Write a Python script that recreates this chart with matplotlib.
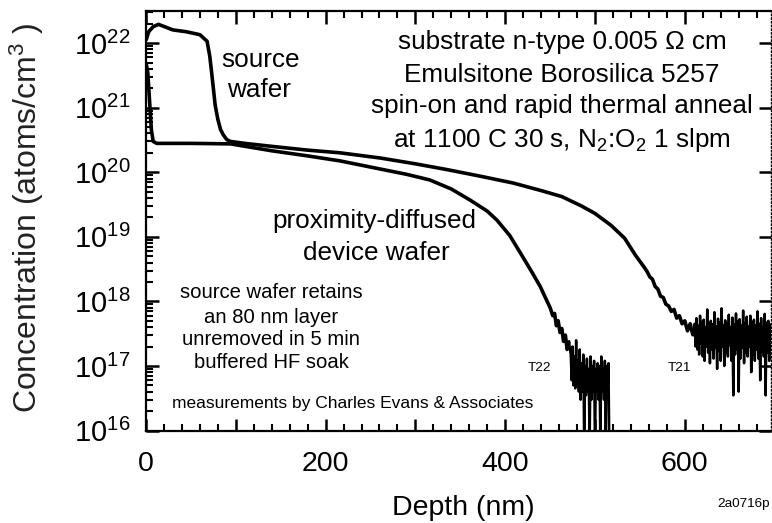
import matplotlib
matplotlib.use("Agg")
import matplotlib.pyplot as plt
from matplotlib.ticker import MultipleLocator, FixedLocator, NullFormatter

plt.rcParams['font.family'] = ['Liberation Sans', 'DejaVu Sans']
plt.rcParams['mathtext.fontset'] = 'custom'
plt.rcParams['mathtext.rm'] = 'Liberation Sans'
plt.rcParams['mathtext.it'] = 'Liberation Sans:italic'
plt.rcParams['mathtext.bf'] = 'Liberation Sans:bold'

### source wafer (T21): depth in nm, boron concentration in atoms/cm^3
src_depth = [0, 3, 8, 14, 30, 45, 60, 68, 71, 73, 75, 77, 80, 83, 86, 90, 94,
             110, 142, 180, 216, 261, 300, 335, 372, 409, 440, 463, 485, 500,
             518, 533, 545, 554, 558, 561, 564, 567, 570, 573, 576, 579, 582,
             585, 588, 591, 594, 597, 600, 603, 606, 609]
src_conc = [1.1e22, 1.5e22, 1.8e22, 1.95e22, 1.6e22, 1.5e22, 1.35e22, 1.07e22,
            6.3e21, 3.6e21, 2.0e21, 1.1e21, 6.6e20, 4.6e20, 3.8e20, 3.2e20, 3.0e20,
            2.8e20, 2.5e20, 2.2e20, 2.0e20, 1.66e20, 1.35e20, 1.1e20, 8.7e19,
            6.8e19, 5.2e19, 4.2e19, 3.0e19, 2.3e19, 1.5e19, 9.5e18, 5.2e18,
            3.5e18, 2.9e18, 2.4e18, 2.2e18, 1.7e18, 1.55e18, 1.2e18, 1.15e18,
            9.0e17, 8.5e17, 7.0e17, 7.5e17, 5.5e17, 6.0e17, 4.5e17, 5.0e17,
            3.5e17, 4.5e17, 3.0e17]
# noisy detection-limit tail of T21
src_tail_depth = [609, 611, 612, 613, 614, 615, 616, 617, 618, 619, 620,
                  621, 622, 623, 624, 625, 626, 627, 628, 629, 630,
                  631, 632, 633, 634, 635, 636, 637, 638, 639, 640,
                  641, 642, 643, 644, 645, 646, 647, 648, 649, 650,
                  651, 652, 653, 654, 655, 656, 657, 658, 659, 660,
                  661, 662, 663, 664, 665, 666, 667, 668, 669, 670,
                  671, 672, 673, 674, 675, 676, 677, 678, 679, 680,
                  681, 682, 683, 684, 685, 686, 687, 688, 689, 690,
                  691, 692, 693, 694, 695, 696]
src_tail_conc = [3.0e17, 4.5e17, 2.0e17, 5.5e17, 1.8e17, 4.2e17, 1.5e17, 6.0e17, 2.2e17, 4.8e17, 1.4e17,
                 5.2e17, 1.2e17, 4.0e17, 2.0e17, 7.5e17, 1.6e17, 4.6e17, 1.1e17, 5.0e17, 1.8e17,
                 4.4e17, 1.3e17, 6.8e17, 1.9e17, 4.1e17, 0.9e17, 5.4e17, 1.7e17, 4.7e17, 1.2e17,
                 7.8e17, 2.0e17, 4.3e17, 1.0e17, 5.1e17, 1.6e17, 4.5e17, 1.4e17, 6.2e17, 2.1e17,
                 4.0e17, 1.2e17, 5.6e17, 0.35e17, 4.4e17, 1.5e17, 6.5e17, 1.8e17, 4.9e17, 0.4e17,
                 5.3e17, 1.3e17, 4.2e17, 1.9e17, 7.2e17, 1.1e17, 4.6e17, 1.6e17, 5.8e17, 1.4e17,
                 4.1e17, 2.0e17, 6.0e17, 0.8e17, 4.8e17, 1.5e17, 5.2e17, 1.2e17, 4.3e17, 1.8e17,
                 7.0e17, 1.3e17, 4.5e17, 0.6e17, 5.5e17, 1.7e17, 4.0e17, 1.4e17, 6.4e17, 0.35e17,
                 4.7e17, 1.6e17, 5.0e17, 1.2e17, 4.4e17, 1.9e17]

### proximity-diffused device wafer (T22)
dev_depth = [0, 2, 4, 6, 8, 12, 50, 94, 140, 179, 216, 261, 290, 316, 340, 361,
             380, 391, 405, 417, 430, 439, 446, 450, 453, 455, 457, 459, 461,
             463, 465, 467, 469, 471]
dev_conc = [5e21, 3.5e21, 1.25e21, 4.5e20, 3.0e20, 2.8e20, 2.8e20, 2.75e20,
            2.15e20, 1.8e20, 1.5e20, 1.12e20, 9.3e19, 7.6e19, 5.5e19, 3.7e19,
            2.5e19, 1.8e19, 1.05e19, 5.6e18, 2.8e18, 1.7e18, 1.05e18, 8.0e17,
            6.0e17, 6.5e17, 4.2e17, 5.0e17, 3.3e17, 3.8e17, 2.4e17, 3.0e17,
            1.8e17, 2.4e17]
dev_tail_depth = [471, 473, 474, 475, 476, 477, 478, 479, 480, 481, 482,
                  483, 484, 485, 486, 487, 488, 489, 490, 491, 492,
                  493, 494, 495, 496, 497, 498, 499, 500, 501, 502,
                  503, 504, 505, 506, 507, 508, 509, 510, 511, 512,
                  513, 514, 515, 516, 517]
dev_tail_conc = [2.4e17, 1.5e17, 6e16, 2.0e17, 5e16, 1.4e17, 4.5e16, 2.5e17, 5e16, 1.2e17, 4e16,
                 1.8e17, 3e16, 1.1e17, 4e16, 1.5e17, 5e15, 1.0e17, 3.5e16, 1.3e17, 4e16,
                 9e16, 5e15, 1.4e17, 3e16, 1.0e17, 4e16, 1.2e17, 5e15, 9e16, 4e16,
                 1.1e17, 3e16, 1.0e17, 5e15, 1.4e17, 4e16, 9e16, 3e16, 1.2e17, 5e15,
                 1.0e17, 4e16, 1.1e17, 5e15, 5e15]

xticks = [0, 100, 200, 300, 400, 500, 600]
xticklabels = ['0', '', '200', '', '400', '', '600']
yticks = [1e16, 1e17, 1e18, 1e19, 1e20, 1e21, 1e22]
# log minor ticks 2..9 in every decade
yminor = [k * 10.0**e for e in range(16, 23) for k in range(2, 10)]

fig = plt.figure(figsize=(7.72, 5.23), dpi=100)
ax = fig.add_axes([146/772, 92.5/523, 625/772, 420/523])

ax.plot(src_depth, src_conc, color='black', lw=2.6, solid_capstyle='butt')
ax.plot(src_tail_depth, src_tail_conc, color='black', lw=1.8)
ax.plot(dev_depth, dev_conc, color='black', lw=2.6, solid_capstyle='butt')
ax.plot(dev_tail_depth, dev_tail_conc, color='black', lw=1.8)

ax.set_yscale('log')
ax.set_xlim(0, 696)
ax.set_ylim(1e16, 3.2e22)

ax.set_xticks(xticks)
ax.set_xticklabels(xticklabels)
ax.xaxis.set_minor_locator(MultipleLocator(20))
ax.set_yticks(yticks)
ax.yaxis.set_minor_locator(FixedLocator(yminor))
ax.yaxis.set_minor_formatter(NullFormatter())

ax.xaxis.set_tick_params(which='both', direction='in', top=True, bottom=True,
                         color='#000000', zorder=5)
ax.yaxis.set_tick_params(which='both', direction='in', left=True, right=True,
                         color='#000000', zorder=5)
ax.tick_params(which='major', length=9, width=1.8)
ax.tick_params(which='minor', length=5, width=1.5)
ax.tick_params(axis='y', which='minor', right=False)
ax.tick_params(axis='x', labelsize=20.5, pad=15)
ax.tick_params(axis='y', labelsize=21, pad=11)

for side in ['left', 'bottom', 'top']:
    ax.spines[side].set_linewidth(1.6)
ax.spines['right'].set_linestyle(':')
ax.spines['right'].set_linewidth(1.0)

ax.set_xlabel('Depth (nm)', fontsize=20.5)
ax.xaxis.set_label_coords(0.507, -0.185)
ax.xaxis.label.set_va('center')
ax.set_ylabel('Concentration (atoms/cm$^{3}$ )', fontsize=23, color='#222222')
ax.yaxis.set_label_coords(-0.19, 0.507)
ax.yaxis.label.set_va('center')

### annotations
tr = ax.transAxes
ax.text(0.184, 0.865, 'source', fontsize=18.8, ha='center', va='baseline', transform=tr)
ax.text(0.181, 0.794, 'wafer', fontsize=18.8, ha='center', va='baseline', transform=tr)

note_lines = ['substrate n-type 0.005 \u03a9 cm',
              'Emulsitone Borosilica 5257',
              'spin-on and rapid thermal anneal',
              'at 1100 C 30 s, N$_{2}$:O$_{2}$ 1 slpm']
for line, yy in zip(note_lines, [0.908, 0.830, 0.756, 0.675]):
    ax.text(0.666, yy, line, fontsize=18.8, ha='center', va='baseline', transform=tr)

ax.text(0.366, 0.482, 'proximity-diffused', fontsize=18.8, ha='center', va='baseline', transform=tr)
ax.text(0.368, 0.406, 'device wafer', fontsize=18.8, ha='center', va='baseline', transform=tr)

retain_lines = ['source wafer retains', 'an 80 nm layer',
                'unremoved in 5 min', 'buffered HF soak']
for line, yy in zip(retain_lines, [0.315, 0.257, 0.204, 0.149]):
    ax.text(0.2, yy, line, fontsize=14.6, ha='center', va='baseline', transform=tr)

ax.text(0.33, 0.054, 'measurements by Charles Evans & Associates', fontsize=12.5,
        ha='center', va='baseline', transform=tr)
ax.text(0.630, 0.142, 'T22', fontsize=9.7, ha='center', va='baseline', transform=tr)
ax.text(0.854, 0.142, 'T21', fontsize=9.7, ha='center', va='baseline', transform=tr)

fig.text(717/772, 1 - 507/523, '2a0716p', fontsize=9.7, ha='left', va='baseline')

fig.savefig('out.png', dpi=100)
